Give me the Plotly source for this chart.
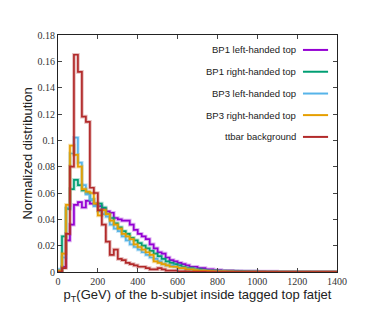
import plotly.graph_objects as go

# 20 GeV bins from 0 to 1400 GeV
bin_edges = list(range(0, 1420, 20))

bp1_left = [0.000, 0.004, 0.024, 0.036, 0.051, 0.053, 0.049, 0.054, 0.052, 0.051,
            0.050, 0.048, 0.046, 0.045, 0.041, 0.040, 0.039, 0.039, 0.036, 0.032,
            0.029, 0.027, 0.025, 0.021, 0.018, 0.015, 0.014, 0.011, 0.009, 0.008,
            0.007, 0.006, 0.005, 0.004, 0.004, 0.003, 0.003, 0.002, 0.002, 0.0015,
            0.0015, 0.001, 0.001, 0.001, 0.0008, 0.0008, 0.0006, 0.0006, 0.0005, 0.0005,
            0.0004, 0.0004, 0.0003, 0.0003, 0.0003, 0.0002, 0.0002, 0.0002, 0.0002, 0.0001,
            0.0001, 0.0001, 0.0001, 0.0001, 0.0001, 0.0001, 0.0001, 0.0001, 0.0001, 0.0]
bp1_right = [0.000, 0.027, 0.048, 0.063, 0.070, 0.066, 0.062, 0.060, 0.055, 0.052,
             0.052, 0.049, 0.044, 0.041, 0.037, 0.034, 0.031, 0.029, 0.026, 0.024,
             0.022, 0.020, 0.018, 0.016, 0.014, 0.012, 0.010, 0.008, 0.007, 0.006,
             0.005, 0.004, 0.003, 0.003, 0.002, 0.002, 0.0015, 0.001, 0.001, 0.001,
             0.0008, 0.0007, 0.0006, 0.0005, 0.0005, 0.0004, 0.0004, 0.0003, 0.0003, 0.0003,
             0.0002, 0.0002, 0.0002, 0.0002, 0.0001, 0.0001, 0.0001, 0.0001, 0.0001, 0.0001,
             0.0001, 0.0001, 0.0001, 0.0, 0.0, 0.0, 0.0, 0.0, 0.0, 0.0]
bp3_left = [0.002, 0.011, 0.049, 0.090, 0.102, 0.083, 0.066, 0.059, 0.055, 0.050,
            0.046, 0.044, 0.042, 0.036, 0.033, 0.031, 0.027, 0.024, 0.021, 0.019,
            0.017, 0.015, 0.013, 0.011, 0.010, 0.008, 0.006, 0.005, 0.005, 0.004,
            0.003, 0.003, 0.002, 0.002, 0.0015, 0.001, 0.001, 0.0008, 0.0006, 0.0005,
            0.0004, 0.0004, 0.0003, 0.0003, 0.0002, 0.0002, 0.0002, 0.0001, 0.0001, 0.0001,
            0.0001, 0.0001, 0.0, 0.0, 0.0, 0.0, 0.0, 0.0, 0.0, 0.0,
            0.0, 0.0, 0.0, 0.0, 0.0, 0.0, 0.0, 0.0, 0.0, 0.0]
bp3_right = [0.001, 0.014, 0.051, 0.096, 0.089, 0.080, 0.063, 0.061, 0.060, 0.052,
             0.043, 0.047, 0.044, 0.039, 0.036, 0.033, 0.029, 0.027, 0.025, 0.021,
             0.019, 0.017, 0.015, 0.013, 0.008, 0.007, 0.006, 0.005, 0.004, 0.004,
             0.003, 0.003, 0.002, 0.002, 0.0015, 0.001, 0.001, 0.0008, 0.0006, 0.0005,
             0.0004, 0.0004, 0.0003, 0.0003, 0.0002, 0.0002, 0.0002, 0.0001, 0.0001, 0.0001,
             0.0001, 0.0001, 0.0, 0.0, 0.0, 0.0, 0.0, 0.0, 0.0, 0.0,
             0.0, 0.0, 0.0, 0.0, 0.0, 0.0, 0.0, 0.0, 0.0, 0.0]
ttbar = [0.000, 0.003, 0.029, 0.080, 0.165, 0.152, 0.118, 0.114, 0.064, 0.060,
         0.047, 0.036, 0.023, 0.013, 0.017, 0.010, 0.009, 0.007, 0.006, 0.005,
         0.004, 0.004, 0.003, 0.002, 0.002, 0.003, 0.002, 0.001, 0.001, 0.001,
         0.0005, 0.0005, 0.0003, 0.0002, 0.0002, 0.0001, 0.0001, 0.0, 0.0, 0.0,
         0.0, 0.0, 0.0, 0.0, 0.0, 0.0, 0.0, 0.0, 0.0, 0.0,
         0.0, 0.0, 0.0, 0.0, 0.0, 0.0, 0.0, 0.0, 0.0, 0.0,
         0.0, 0.0, 0.0, 0.0, 0.0, 0.0, 0.0, 0.0, 0.0, 0.0]

series = [
    ("BP1 left-handed top", bp1_left, "#9400D3"),
    ("BP1 right-handed top", bp1_right, "#009E73"),
    ("BP3 left-handed top", bp3_left, "#56B4E9"),
    ("BP3 right-handed top", bp3_right, "#E69F00"),
    ("ttbar background", ttbar, "#B22A2A"),
]

y_ticks = [0, 0.02, 0.04, 0.06, 0.08, 0.1, 0.12, 0.14, 0.16, 0.18]
y_tick_labels = ["0", "0.02", "0.04", "0.06", "0.08", "0.1", "0.12", "0.14", "0.16", "0.18"]
x_ticks = [0, 200, 400, 600, 800, 1000, 1200, 1400]

fig = go.Figure()

for name, vals, color in series:
    ys = vals + [vals[-1]]
    # soft halo under the step line
    fig.add_trace(go.Scatter(x=bin_edges, y=ys, mode="lines", line_shape="hv",
                             line=dict(color=color, width=3.6), opacity=0.3,
                             showlegend=False, hoverinfo="skip"))
    fig.add_trace(go.Scatter(x=bin_edges, y=ys, mode="lines", line_shape="hv",
                             line=dict(color=color, width=1.7), name=name, showlegend=False))

# legend drawn gnuplot-style: right-aligned text, sample line on the right
legend_y = [0.937, 0.845, 0.753, 0.662, 0.570]
for (name, vals, color), ly in zip(series, legend_y):
    fig.add_annotation(x=0.86, y=ly, xref="paper", yref="paper", text=name,
                       showarrow=False, xanchor="right", yanchor="middle",
                       font=dict(family="Liberation Sans", size=9.5, color="#222"))
    fig.add_shape(type="line", xref="paper", yref="paper", x0=0.878, x1=0.968, y0=ly, y1=ly,
                  line=dict(color=color, width=2))

axis_common = dict(showline=True, linecolor="#222", linewidth=1, mirror="ticks",
                   ticks="inside", ticklen=4, tickcolor="#444", showgrid=False, zeroline=False,
                   tickfont=dict(family="Liberation Serif", size=10, color="#333"))

# the page body adds an 8px offset, so the figure is sized to fit the window
fig.update_layout(
    width=374, height=319,
    margin=dict(l=50, r=45, t=27, b=55),
    plot_bgcolor="white", paper_bgcolor="white",
    showlegend=False,
    xaxis=dict(range=[0, 1400], tickvals=x_ticks,
               title=dict(text="p<sub>T</sub>(GeV) of the b-subjet inside tagged top fatjet",
                          font=dict(family="Liberation Sans", size=13, color="#222"), standoff=0),
               **axis_common),
    yaxis=dict(range=[0, 0.18], tickvals=y_ticks, ticktext=y_tick_labels,
               title=dict(text="Normalized distribution",
                          font=dict(family="Liberation Sans", size=13, color="#222"), standoff=1),
               **axis_common),
)

fig.write_html("out.html")
